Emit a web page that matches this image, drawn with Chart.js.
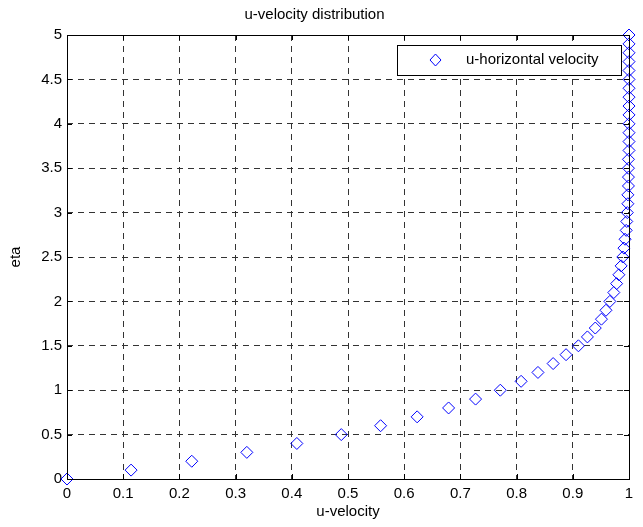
<!DOCTYPE html>
<html>
<head>
<meta charset="utf-8">
<script src="https://cdn.jsdelivr.net/npm/chart.js@4.4.1/dist/chart.umd.min.js"></script>
<style>
  body { margin: 0; background: #fff; }
</style>
</head>
<body>
<canvas id="uChart" width="643" height="527"></canvas>
<script>
// eta positions (y) and u-velocity (x)
const eta = [0, 0.1, 0.2, 0.3, 0.4, 0.5, 0.6, 0.7, 0.8, 0.9,
             1.0, 1.1, 1.2, 1.3, 1.4, 1.5, 1.6, 1.7, 1.8, 1.9,
             2.0, 2.1, 2.2, 2.3, 2.4, 2.5, 2.6, 2.7, 2.8, 2.9,
             3.0, 3.1, 3.2, 3.3, 3.4, 3.5, 3.6, 3.7, 3.8, 3.9,
             4.0, 4.1, 4.2, 4.3, 4.4, 4.5, 4.6, 4.7, 4.8, 4.9, 5.0];
const uVel = [0, 0.114, 0.222, 0.320, 0.409, 0.488, 0.558, 0.623, 0.679, 0.727,
              0.771, 0.808, 0.838, 0.865, 0.888, 0.910, 0.926, 0.940, 0.951, 0.959,
              0.966, 0.973, 0.978, 0.982, 0.986, 0.989, 0.991, 0.993, 0.995, 0.996,
              0.997, 0.998, 0.998, 0.999, 0.999, 0.999, 0.999, 1.0, 1.0, 1.0,
              1.0, 1.0, 1.0, 1.0, 1.0, 1.0, 1.0, 1.0, 1.0, 1.0, 1.0];
const xTicks = [0, 0.1, 0.2, 0.3, 0.4, 0.5, 0.6, 0.7, 0.8, 0.9, 1];
const yTicks = [0, 0.5, 1, 1.5, 2, 2.5, 3, 3.5, 4, 4.5, 5];

const FONT = "'Liberation Sans', Arial, Helvetica, sans-serif";
const BLUE = '#0000ff';

// matlab-ish box, inner tick marks and the boxed legend
const boxPlugin = {
    id: 'box',
    afterDatasetsDraw(chart) {
        const ctx = chart.ctx;
        const a = chart.chartArea;
        const xs = chart.scales.x, ys = chart.scales.y;
        ctx.save();
        ctx.strokeStyle = '#000';
        ctx.lineWidth = 1;
        ctx.beginPath();
        xTicks.forEach(v => {
            const px = Math.round(xs.getPixelForValue(v)) + 0.5;
            ctx.moveTo(px, a.bottom); ctx.lineTo(px, a.bottom - 5);
            ctx.moveTo(px, a.top); ctx.lineTo(px, a.top + 5);
        });
        yTicks.forEach(v => {
            const py = Math.round(ys.getPixelForValue(v)) + 0.5;
            ctx.moveTo(a.left, py); ctx.lineTo(a.left + 5, py);
            ctx.moveTo(a.right, py); ctx.lineTo(a.right - 5, py);
        });
        ctx.stroke();
        ctx.strokeRect(Math.round(a.left) + 0.5, Math.round(a.top) + 0.5,
                       Math.round(a.right - a.left), Math.round(a.bottom - a.top));

        // legend
        ctx.fillStyle = '#fff';
        ctx.fillRect(397, 45, 224, 30);
        ctx.strokeRect(397.5, 45.5, 224, 30);
        ctx.strokeStyle = BLUE;
        ctx.beginPath();
        ctx.moveTo(430, 60); ctx.lineTo(435.5, 54); ctx.lineTo(441, 60); ctx.lineTo(435.5, 66);
        ctx.closePath();
        ctx.stroke();
        ctx.fillStyle = '#000';
        ctx.font = '15px ' + FONT;
        ctx.textBaseline = 'middle';
        ctx.fillText('u-horizontal velocity', 466, 60);
        ctx.restore();
    }
};

new Chart(document.getElementById('uChart').getContext('2d'), {
    type: 'scatter',
    data: {
        datasets: [{
            label: 'u-horizontal velocity',
            data: uVel.map((u, i) => ({ x: u, y: eta[i] })),
            pointStyle: 'rectRot',
            pointRadius: 6,
            pointBorderWidth: 1,
            borderColor: BLUE,
            backgroundColor: 'rgba(0,0,0,0)',
            showLine: false,
            clip: false
        }]
    },
    options: {
        responsive: false,
        animation: false,
        layout: { padding: { top: 0, right: 14, bottom: 0, left: 0 } },
        plugins: {
            legend: { display: false },
            tooltip: { enabled: false },
            title: {
                display: true,
                text: 'u-velocity distribution',
                color: '#000',
                font: { family: FONT, size: 15, weight: 'normal' },
                padding: { top: 6, bottom: 11 }
            }
        },
        scales: {
            x: {
                type: 'linear',
                min: 0,
                max: 1,
                afterBuildTicks: s => { s.ticks = xTicks.map(v => ({ value: v })); },
                afterFit: s => { s.height = 48; },
                ticks: {
                    color: '#000',
                    padding: 6,
                    maxRotation: 0,
                    font: { family: FONT, size: 15 },
                    callback: v => String(v)
                },
                grid: { color: '#333', lineWidth: 1, drawTicks: false },
                border: { display: false, dash: [6, 5] },
                title: {
                    display: true,
                    text: 'u-velocity',
                    color: '#000',
                    font: { family: FONT, size: 15 },
                    padding: { top: 0, bottom: 6 }
                }
            },
            y: {
                type: 'linear',
                min: 0,
                max: 5,
                afterBuildTicks: s => { s.ticks = yTicks.map(v => ({ value: v })); },
                afterFit: s => { s.width = 67; },
                ticks: {
                    color: '#000',
                    padding: 5,
                    font: { family: FONT, size: 15 },
                    callback: v => String(v)
                },
                grid: { color: '#333', lineWidth: 1, drawTicks: false },
                border: { display: false, dash: [6, 5] },
                title: {
                    display: true,
                    text: 'eta',
                    color: '#000',
                    font: { family: FONT, size: 15 },
                    padding: { top: 7, bottom: 0 }
                }
            }
        }
    },
    plugins: [boxPlugin]
});
</script>
</body>
</html>
